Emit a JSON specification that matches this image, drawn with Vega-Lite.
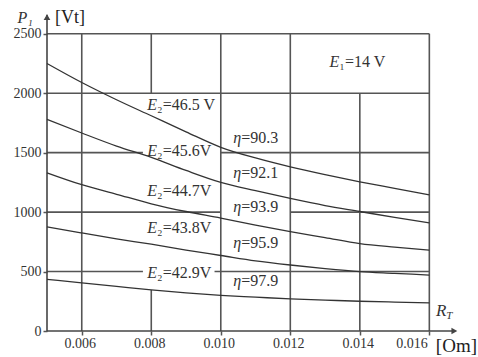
{
  "$schema": "https://vega.github.io/schema/vega-lite/v6.json",
  "width": 431,
  "height": 327,
  "autosize": "none",
  "padding": {"left": 47, "top": 4, "right": 0, "bottom": 26},
  "background": "white",
  "config": {"view": {"stroke": null}, "font": "Liberation Serif"},
  "datasets": {
    "grid": [
      {"x": 0.006, "x2": 0.006, "y": 0, "y2": 2500},
      {"x": 0.008, "x2": 0.008, "y": 0, "y2": 345},
      {"x": 0.008, "x2": 0.008, "y": 2000, "y2": 2500},
      {"x": 0.010, "x2": 0.010, "y": 0, "y2": 2500},
      {"x": 0.012, "x2": 0.012, "y": 0, "y2": 2500},
      {"x": 0.014, "x2": 0.014, "y": 0, "y2": 2000},
      {"x": 0.016, "x2": 0.016, "y": 0, "y2": 2500},
      {"x": 0.005, "x2": 0.016, "y": 2500, "y2": 2500},
      {"x": 0.005, "x2": 0.016, "y": 2000, "y2": 2000},
      {"x": 0.005, "x2": 0.00776, "y": 1500, "y2": 1500},
      {"x": 0.010, "x2": 0.016, "y": 1500, "y2": 1500},
      {"x": 0.005, "x2": 0.010, "y": 1000, "y2": 1000},
      {"x": 0.012, "x2": 0.016, "y": 1000, "y2": 1000},
      {"x": 0.005, "x2": 0.00776, "y": 500, "y2": 500},
      {"x": 0.00982, "x2": 0.016, "y": 500, "y2": 500}
    ],
    "axes": [
      {"x": 0.005, "x2": 0.005, "y": 0, "y2": 2660},
      {"x": 0.005, "x2": 0.0167, "y": 0, "y2": 0}
    ],
    "curves": [
      {"s": "46.5", "x": 0.005, "y": 2250}, {"s": "46.5", "x": 0.006, "y": 2090}, {"s": "46.5", "x": 0.007, "y": 1945}, {"s": "46.5", "x": 0.008, "y": 1810}, {"s": "46.5", "x": 0.009, "y": 1675}, {"s": "46.5", "x": 0.010, "y": 1545}, {"s": "46.5", "x": 0.011, "y": 1455}, {"s": "46.5", "x": 0.012, "y": 1380}, {"s": "46.5", "x": 0.013, "y": 1315}, {"s": "46.5", "x": 0.014, "y": 1255}, {"s": "46.5", "x": 0.015, "y": 1200}, {"s": "46.5", "x": 0.016, "y": 1145},
      {"s": "45.6", "x": 0.005, "y": 1780}, {"s": "45.6", "x": 0.006, "y": 1665}, {"s": "45.6", "x": 0.007, "y": 1555}, {"s": "45.6", "x": 0.008, "y": 1460}, {"s": "45.6", "x": 0.009, "y": 1350}, {"s": "45.6", "x": 0.010, "y": 1250}, {"s": "45.6", "x": 0.011, "y": 1180}, {"s": "45.6", "x": 0.012, "y": 1115}, {"s": "45.6", "x": 0.013, "y": 1055}, {"s": "45.6", "x": 0.014, "y": 1005}, {"s": "45.6", "x": 0.015, "y": 955}, {"s": "45.6", "x": 0.016, "y": 910},
      {"s": "44.7", "x": 0.005, "y": 1330}, {"s": "44.7", "x": 0.006, "y": 1230}, {"s": "44.7", "x": 0.007, "y": 1150}, {"s": "44.7", "x": 0.008, "y": 1070}, {"s": "44.7", "x": 0.009, "y": 1005}, {"s": "44.7", "x": 0.010, "y": 950}, {"s": "44.7", "x": 0.011, "y": 890}, {"s": "44.7", "x": 0.012, "y": 835}, {"s": "44.7", "x": 0.013, "y": 785}, {"s": "44.7", "x": 0.014, "y": 735}, {"s": "44.7", "x": 0.015, "y": 705}, {"s": "44.7", "x": 0.016, "y": 680},
      {"s": "43.8", "x": 0.005, "y": 875}, {"s": "43.8", "x": 0.006, "y": 825}, {"s": "43.8", "x": 0.007, "y": 775}, {"s": "43.8", "x": 0.008, "y": 730}, {"s": "43.8", "x": 0.009, "y": 680}, {"s": "43.8", "x": 0.010, "y": 635}, {"s": "43.8", "x": 0.011, "y": 590}, {"s": "43.8", "x": 0.012, "y": 555}, {"s": "43.8", "x": 0.013, "y": 525}, {"s": "43.8", "x": 0.014, "y": 500}, {"s": "43.8", "x": 0.015, "y": 485}, {"s": "43.8", "x": 0.016, "y": 470},
      {"s": "42.9", "x": 0.005, "y": 435}, {"s": "42.9", "x": 0.006, "y": 405}, {"s": "42.9", "x": 0.007, "y": 375}, {"s": "42.9", "x": 0.008, "y": 345}, {"s": "42.9", "x": 0.009, "y": 320}, {"s": "42.9", "x": 0.010, "y": 300}, {"s": "42.9", "x": 0.011, "y": 285}, {"s": "42.9", "x": 0.012, "y": 270}, {"s": "42.9", "x": 0.013, "y": 260}, {"s": "42.9", "x": 0.014, "y": 250}, {"s": "42.9", "x": 0.015, "y": 243}, {"s": "42.9", "x": 0.016, "y": 237}
    ],
    "e2": [
      {"x": 0.008167, "y": 1901, "t": "₂=46.5 V"},
      {"x": 0.008167, "y": 1514, "t": "₂=45.6V"},
      {"x": 0.008167, "y": 1177, "t": "₂=44.7V"},
      {"x": 0.008167, "y": 866, "t": "₂=43.8V"},
      {"x": 0.008167, "y": 488, "t": "₂=42.9V"}
    ],
    "eta": [
      {"x": 0.010586, "y": 1619, "t": "=90.3"},
      {"x": 0.010586, "y": 1329, "t": "=92.1"},
      {"x": 0.010586, "y": 1039, "t": "=93.9"},
      {"x": 0.010586, "y": 736, "t": "=95.9"},
      {"x": 0.010586, "y": 420, "t": "=97.9"}
    ],
    "e1": [{"x": 0.01341, "y": 2262, "t": "₁=14 V"}],
    "p1": [{"x": 0.00437, "y": 2632, "t": "P₁"}],
    "vt": [{"x": 0.005662, "y": 2632, "t": "[Vt]"}],
    "rt": [{"x": 0.016489, "y": 126, "t": "T"}],
    "om": [{"x": 0.01678, "y": -126, "t": "[Om]"}],
    "arrowUp": [{"x": 0.005, "y": 2640}],
    "arrowRight": [{"x": 0.01672, "y": 0}]
  },
  "encoding": {
    "x": {
      "field": "x", "type": "quantitative",
      "scale": {"domain": [0.005, 0.0174], "nice": false, "zero": false},
      "axis": {"values": [0.006, 0.008, 0.010, 0.012, 0.014, 0.016], "format": ".3f", "title": null, "domain": false, "grid": false, "tickSize": 4, "tickColor": "#555", "tickWidth": 1.5, "labelPadding": 1, "labelOffset": -2, "labelAlign": {"condition": {"test": "datum.value > 0.0155", "value": "right"}, "value": "center"}, "labelFont": "Liberation Serif", "labelFontSize": 14, "labelColor": "#333"}
    },
    "y": {
      "field": "y", "type": "quantitative",
      "scale": {"domain": [0, 2750], "nice": false},
      "axis": {"values": [0, 500, 1000, 1500, 2000, 2500], "format": "d", "title": null, "domain": false, "grid": false, "tickSize": 4, "tickColor": "#555", "tickWidth": 1.5, "labelPadding": 2, "labelFont": "Liberation Serif", "labelFontSize": 14, "labelColor": "#333"}
    }
  },
  "layer": [
    {"data": {"name": "grid"}, "mark": {"type": "rule", "color": "#555", "strokeWidth": 1.6}, "encoding": {"x2": {"field": "x2"}, "y2": {"field": "y2"}}},
    {"data": {"name": "axes"}, "mark": {"type": "rule", "color": "#444", "strokeWidth": 1.6}, "encoding": {"x2": {"field": "x2"}, "y2": {"field": "y2"}}},
    {"data": {"name": "arrowUp"}, "mark": {"type": "point", "shape": "triangle-up", "filled": true, "color": "#444", "size": 45, "opacity": 1}},
    {"data": {"name": "arrowRight"}, "mark": {"type": "point", "shape": "triangle-right", "filled": true, "color": "#444", "size": 45, "opacity": 1}},
    {"data": {"name": "curves"}, "mark": {"type": "line", "color": "#333", "strokeWidth": 1.3, "interpolate": "monotone"}, "encoding": {"detail": {"field": "s"}}},
    {"data": {"name": "e2"}, "mark": {"type": "text", "align": "right", "baseline": "middle", "font": "Liberation Serif", "fontStyle": "italic", "fontSize": 16, "color": "#333"}, "encoding": {"text": {"value": "E"}}},
    {"data": {"name": "e2"}, "mark": {"type": "text", "align": "left", "baseline": "middle", "font": "Liberation Serif", "fontSize": 16, "color": "#333"}, "encoding": {"text": {"field": "t"}}},
    {"data": {"name": "eta"}, "mark": {"type": "text", "align": "right", "baseline": "middle", "font": "Liberation Serif", "fontStyle": "italic", "fontSize": 16, "color": "#333"}, "encoding": {"text": {"value": "η"}}},
    {"data": {"name": "eta"}, "mark": {"type": "text", "align": "left", "baseline": "middle", "font": "Liberation Serif", "fontSize": 16, "color": "#333"}, "encoding": {"text": {"field": "t"}}},
    {"data": {"name": "e1"}, "mark": {"type": "text", "align": "right", "baseline": "middle", "font": "Liberation Serif", "fontStyle": "italic", "fontSize": 16, "color": "#333"}, "encoding": {"text": {"value": "E"}}},
    {"data": {"name": "e1"}, "mark": {"type": "text", "align": "left", "baseline": "middle", "font": "Liberation Serif", "fontSize": 16, "color": "#333"}, "encoding": {"text": {"field": "t"}}},
    {"data": {"name": "p1"}, "mark": {"type": "text", "align": "center", "baseline": "middle", "font": "Liberation Serif", "fontStyle": "italic", "fontSize": 16, "color": "#333"}, "encoding": {"text": {"field": "t"}}},
    {"data": {"name": "vt"}, "mark": {"type": "text", "align": "center", "baseline": "middle", "font": "Liberation Serif", "fontSize": 18, "color": "#222"}, "encoding": {"text": {"field": "t"}}},
    {"data": {"name": "rt"}, "mark": {"type": "text", "align": "right", "baseline": "middle", "font": "Liberation Serif", "fontStyle": "italic", "fontSize": 17, "color": "#333", "dy": -5}, "encoding": {"text": {"value": "R"}}},
    {"data": {"name": "rt"}, "mark": {"type": "text", "align": "left", "baseline": "middle", "font": "Liberation Serif", "fontStyle": "italic", "fontSize": 11, "color": "#333"}, "encoding": {"text": {"field": "t"}}},
    {"data": {"name": "om"}, "mark": {"type": "text", "align": "center", "baseline": "middle", "font": "Liberation Serif", "fontSize": 19, "color": "#222"}, "encoding": {"text": {"field": "t"}}}
  ]
}
